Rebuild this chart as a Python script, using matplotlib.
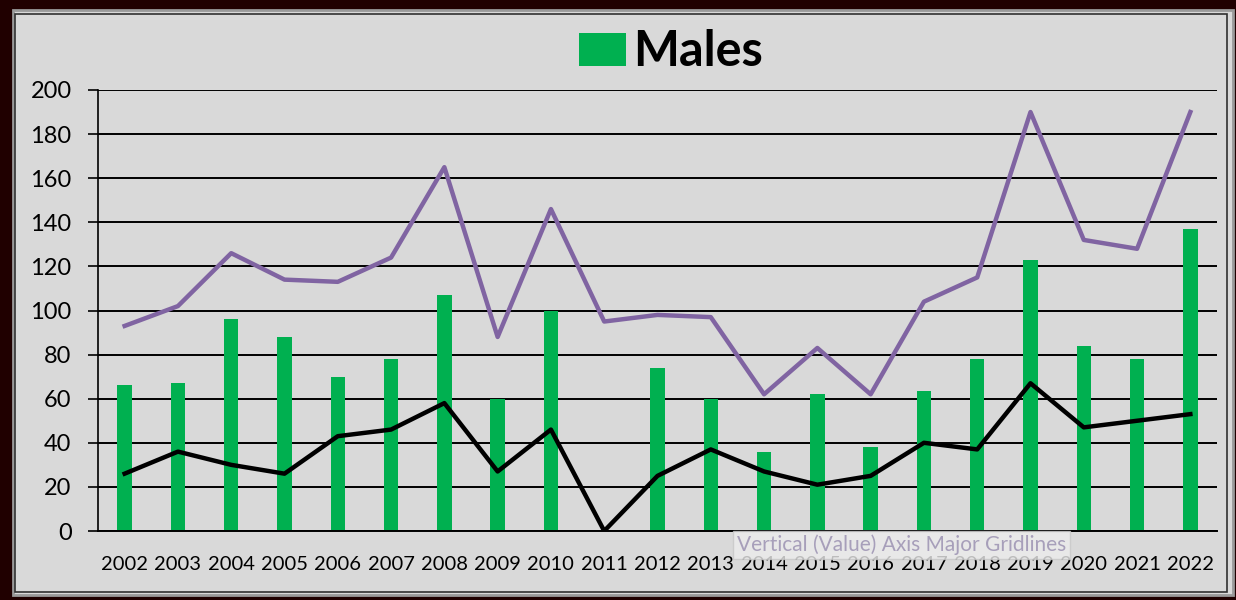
import matplotlib.pyplot as plt
from matplotlib.patches import Rectangle

years = [str(y) for y in range(2002, 2023)]
males = [66, 67, 96, 88, 70, 78, 107, 60, 100, 0, 74, 60, 36, 62, 38, 63.5, 78, 123, 84, 78, 137]
purple_line = [93, 102, 126, 114, 113, 124, 165, 88, 146, 95, 98, 97, 62, 83, 62, 104, 115, 190, 132, 128, 190]
black_line = [26, 36, 30, 26, 43, 46, 58, 27, 46, 0, 25, 37, 27, 21, 25, 40, 37, 67, 47, 50, 53]
yticks = [0, 20, 40, 60, 80, 100, 120, 140, 160, 180, 200]

plt.rcParams['font.family'] = ['Lato', 'DejaVu Sans']

fig = plt.figure(figsize=(12.36, 6), dpi=100)
fig.patch.set_facecolor('#200000')

# chart area panel and its frame
fig.add_artist(Rectangle((13 / 1236, 5 / 600), 1220 / 1236, 585 / 600,
                         transform=fig.transFigure, facecolor='#d9d9d9',
                         edgecolor='#9a9a9a', linewidth=2, zorder=0))
fig.add_artist(Rectangle((15 / 1236, 8 / 600), 1212 / 1236, 578 / 600,
                         transform=fig.transFigure, facecolor='none',
                         edgecolor='#303030', linewidth=1.2, zorder=0))

ax = fig.add_axes([98 / 1236, 1 - 531 / 600, 1119 / 1236, 441 / 600])
ax.set_facecolor('#d9d9d9')

x = range(len(years))
bars = ax.bar(x, males, width=0.27, color='#00b050', zorder=2, label='Males')
ax.plot(x, purple_line, color='#8064a2', linewidth=3.2, zorder=3)
ax.plot(x, black_line, color='black', linewidth=3.2, zorder=3)

ax.set_xlim(-0.5, len(years) - 0.5)
ax.set_ylim(0, 200)
ax.set_yticks(yticks)
ax.set_xticks(list(x))
ax.set_xticklabels(years, fontsize=14.5)
ax.tick_params(axis='y', labelsize=17, length=7, width=1.2, pad=12, color='black')
ax.tick_params(axis='x', length=0, pad=18)
ax.yaxis.grid(True, color='black', linewidth=1.4, zorder=1)
ax.set_axisbelow(True)
for s in ['top', 'right']:
    ax.spines[s].set_visible(False)
ax.spines['left'].set_linewidth(1.2)
ax.spines['bottom'].set_linewidth(1.4)

fig.legend(handles=[bars], labels=['Males'], loc='center',
           bbox_to_anchor=(671 / 1236, 1 - 52 / 600), frameon=False,
           prop={'size': 35, 'weight': 'bold'}, handlelength=0.95,
           handleheight=0.66, handletextpad=0.15)

# hover tooltip seen in the screenshot
fig.text(737 / 1236, 1 - 545 / 600, 'Vertical (Value) Axis Major Gridlines',
         fontsize=15, color='#a79fba', va='center', ha='left',
         bbox=dict(boxstyle='square,pad=0.2', facecolor='#ececec',
                   edgecolor='#c8c8c8', alpha=0.8), zorder=10)

fig.savefig('out.png', dpi=100, facecolor=fig.get_facecolor())
